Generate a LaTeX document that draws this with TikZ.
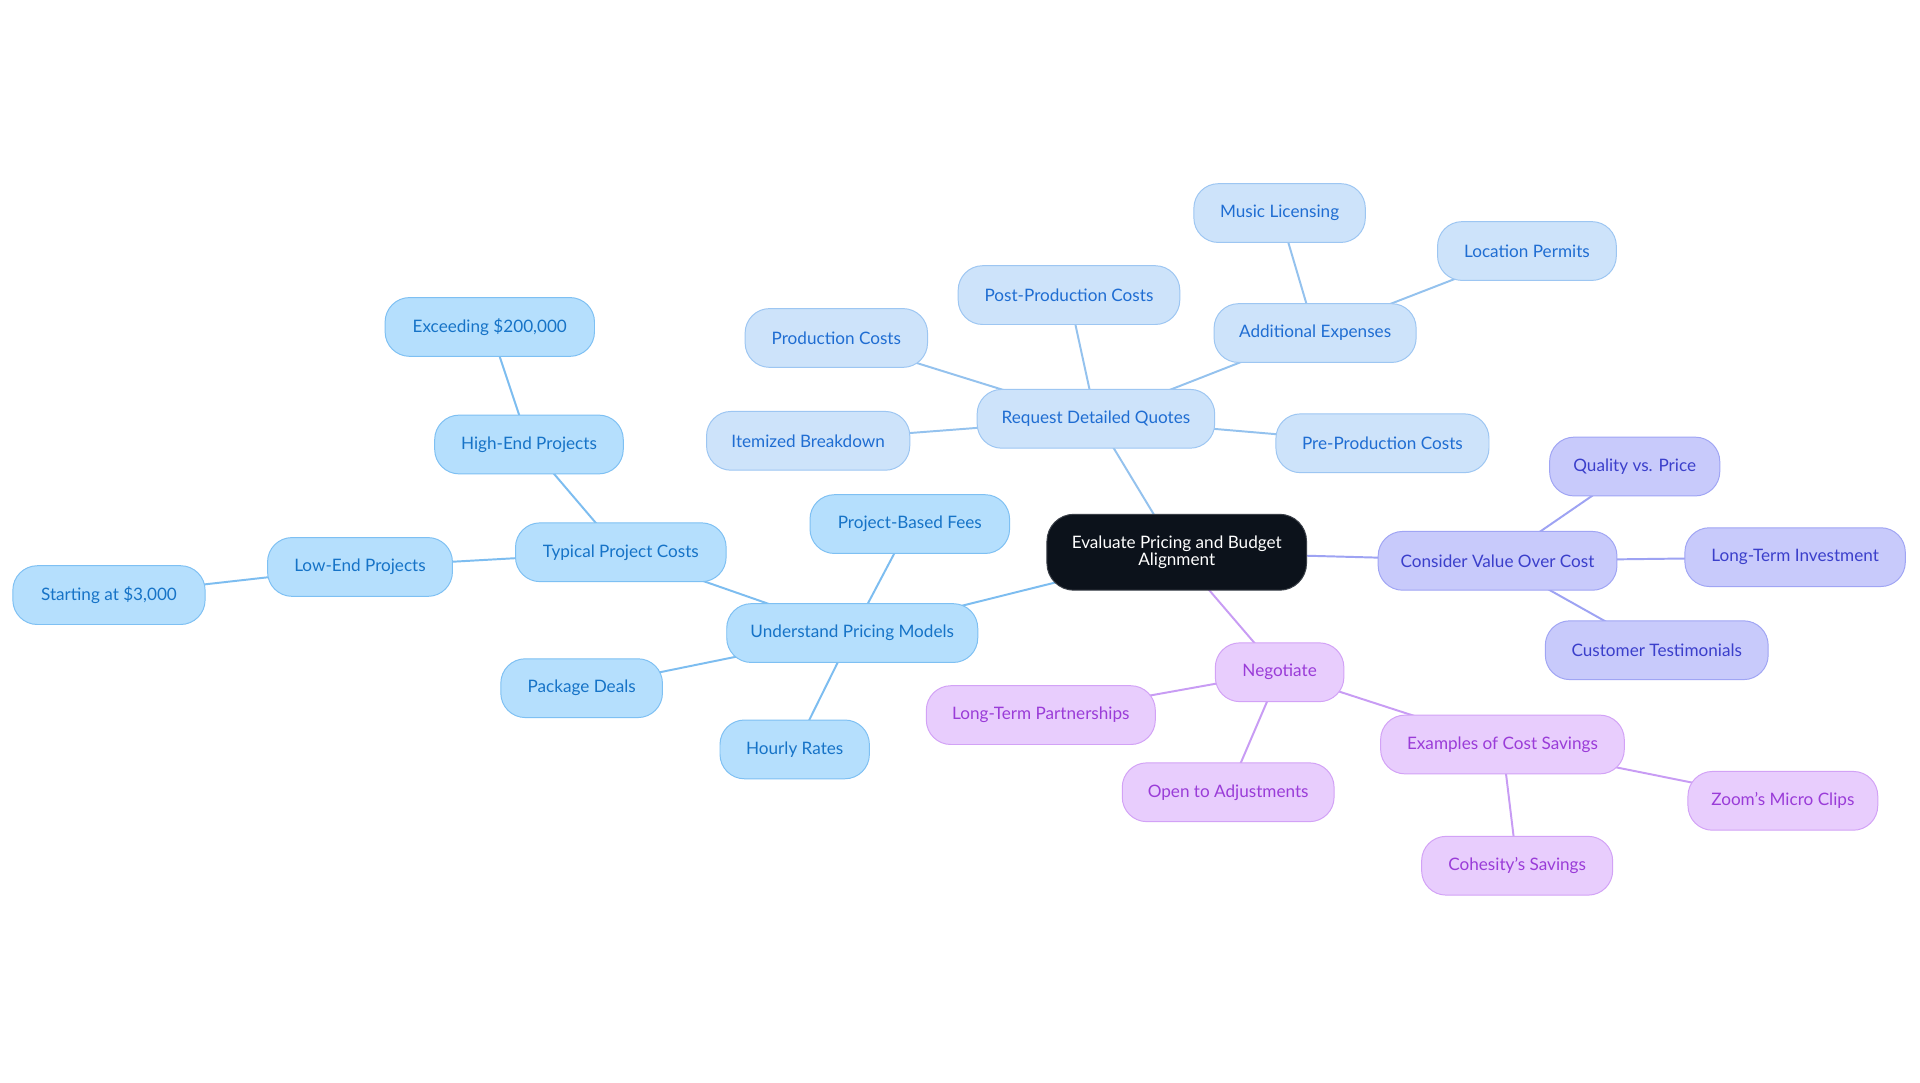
\documentclass[tikz,border=0pt]{standalone}
\usepackage{fontspec}
\setmainfont{Lato}
\usetikzlibrary{backgrounds}
\definecolor{rootfill}{HTML}{0C121B}
\definecolor{rootline}{HTML}{3A3F47}
\definecolor{bqfill}{HTML}{CDE3FA}
\definecolor{bqline}{HTML}{9DC6F2}
\definecolor{bqtext}{HTML}{1F6DD2}
\definecolor{bqedge}{HTML}{94C2EE}
\definecolor{bufill}{HTML}{B5DFFD}
\definecolor{buline}{HTML}{7EC0F3}
\definecolor{butext}{HTML}{1673C7}
\definecolor{buedge}{HTML}{7DBDF0}
\definecolor{bvfill}{HTML}{C8CAFB}
\definecolor{bvline}{HTML}{A0A5F4}
\definecolor{bvtext}{HTML}{3B3FCB}
\definecolor{bvedge}{HTML}{9EA3F3}
\definecolor{bnfill}{HTML}{E8CDFD}
\definecolor{bnline}{HTML}{D2A2F6}
\definecolor{bntext}{HTML}{9A3CD8}
\definecolor{bnedge}{HTML}{C89CF4}
\begin{document}
\begin{tikzpicture}[x=1pt,y=-1pt,
  box/.style={rounded corners=20pt, minimum height=48pt, inner xsep=0pt, inner ysep=0pt,
    line width=0.8pt, font=\fontsize{14}{16}\selectfont, align=center},
  bq/.style={box, fill=bqfill, draw=bqline, text=bqtext},
  bu/.style={box, fill=bufill, draw=buline, text=butext},
  bv/.style={box, fill=bvfill, draw=bvline, text=bvtext},
  bn/.style={box, fill=bnfill, draw=bnline, text=bntext},
  rootbox/.style={rounded corners=22pt, minimum height=62pt, minimum width=212pt,
    inner sep=0pt, line width=0.8pt, fill=rootfill, draw=rootline, text=white,
    font=\fontsize{14}{14}\selectfont, align=center},
  eq/.style={draw=bqedge, line width=1.6pt},
  eu/.style={draw=buedge, line width=1.6pt},
  ev/.style={draw=bvedge, line width=1.6pt},
  en/.style={draw=bnedge, line width=1.6pt}]
\useasboundingbox (0,0) rectangle (1568,884.4);

\node[rootbox] (root) at (961,451) {Evaluate Pricing and Budget\\Alignment};

% Request Detailed Quotes group
\node[bq, minimum width=194pt] (rdq) at (895,342) {Request Detailed Quotes};
\node[bq, minimum width=149pt] (prod) at (683,276) {Production Costs};
\node[bq, minimum width=181pt] (post) at (873,241) {Post-Production Costs};
\node[bq, minimum width=165pt] (addx) at (1074,272) {Additional Expenses};
\node[bq, minimum width=140pt] (music) at (1045,174) {Music Licensing};
\node[bq, minimum width=146pt] (perm) at (1247,205) {Location Permits};
\node[bq, minimum width=166pt] (item) at (660,360) {Itemized Breakdown};
\node[bq, minimum width=174pt] (pre) at (1129,362) {Pre-Production Costs};

% Understand Pricing Models group
\node[bu, minimum width=205pt] (upm) at (696,517) {Understand Pricing Models};
\node[bu, minimum width=163pt] (pbf) at (743,428) {Project-Based Fees};
\node[bu, minimum width=132pt] (pkg) at (475,562) {Package Deals};
\node[bu, minimum width=122pt] (hour) at (649,612) {Hourly Rates};
\node[bu, minimum width=172pt] (tpc) at (507,451) {Typical Project Costs};
\node[bu, minimum width=154pt] (high) at (432,363) {High-End Projects};
\node[bu, minimum width=171pt] (exc) at (400,267) {Exceeding \$200,000};
\node[bu, minimum width=151pt] (low) at (294,463) {Low-End Projects};
\node[bu, minimum width=157pt] (start) at (89,486) {Starting at \$3,000};

% Consider Value Over Cost group
\node[bv, minimum width=195pt] (cvoc) at (1223,458) {Consider Value Over Cost};
\node[bv, minimum width=139pt] (qvp) at (1335,381) {Quality vs. Price};
\node[bv, minimum width=180pt] (lti) at (1466,455) {Long-Term Investment};
\node[bv, minimum width=182pt] (cust) at (1353,531) {Customer Testimonials};

% Negotiate group
\node[bn, minimum width=105pt] (neg) at (1045,549) {Negotiate};
\node[bn, minimum width=187pt] (ltp) at (850,584) {Long-Term Partnerships};
\node[bn, minimum width=173pt] (open) at (1003,647) {Open to Adjustments};
\node[bn, minimum width=199pt] (ecs) at (1227,608) {Examples of Cost Savings};
\node[bn, minimum width=155pt] (zoom) at (1456,654) {Zoom's Micro Clips};
\node[bn, minimum width=156pt] (coh) at (1239,707) {Cohesity's Savings};

\begin{pgfonlayer}{background}
\fill[white] (0,0) rectangle (1568,884.4);
\draw[eq] (root.center) -- (rdq.center);
\draw[eq] (rdq.center) -- (prod.center);
\draw[eq] (rdq.center) -- (post.center);
\draw[eq] (rdq.center) -- (addx.center);
\draw[eq] (addx.center) -- (music.center);
\draw[eq] (addx.center) -- (perm.center);
\draw[eq] (rdq.center) -- (item.center);
\draw[eq] (rdq.center) -- (pre.center);

\draw[eu] (root.center) -- (upm.center);
\draw[eu] (upm.center) -- (pbf.center);
\draw[eu] (upm.center) -- (pkg.center);
\draw[eu] (upm.center) -- (hour.center);
\draw[eu] (upm.center) -- (tpc.center);
\draw[eu] (tpc.center) -- (high.center);
\draw[eu] (high.center) -- (exc.center);
\draw[eu] (tpc.center) -- (low.center);
\draw[eu] (low.center) -- (start.center);

\draw[ev] (root.center) -- (cvoc.center);
\draw[ev] (cvoc.center) -- (qvp.center);
\draw[ev] (cvoc.center) -- (lti.center);
\draw[ev] (cvoc.center) -- (cust.center);

\draw[en] (root.center) -- (neg.center);
\draw[en] (neg.center) -- (ltp.center);
\draw[en] (neg.center) -- (open.center);
\draw[en] (neg.center) -- (ecs.center);
\draw[en] (ecs.center) -- (zoom.center);
\draw[en] (ecs.center) -- (coh.center);
\end{pgfonlayer}
\end{tikzpicture}
\end{document}
